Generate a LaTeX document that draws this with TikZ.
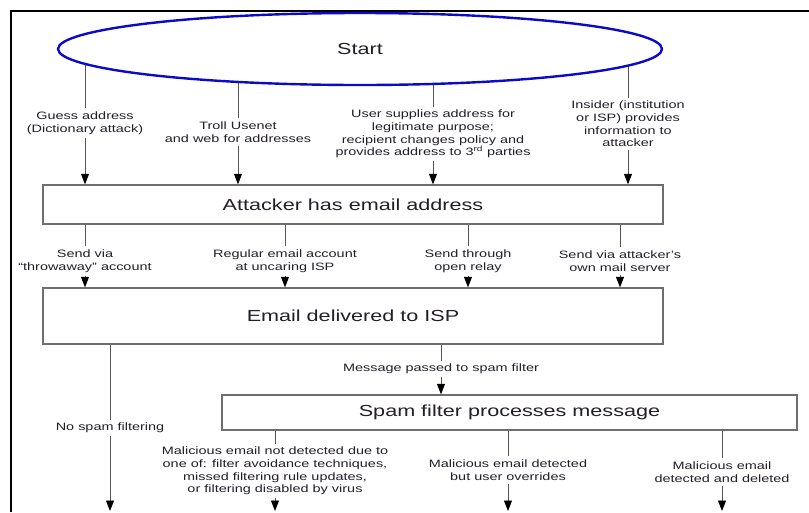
\documentclass[tikz,border=0pt]{standalone}
\usepackage{fontspec}
\setmainfont[FakeStretch=1.35]{Liberation Sans}
\usepackage{tikz}
\usetikzlibrary{arrows.meta, shapes.geometric, backgrounds}
\definecolor{startblue}{RGB}{10, 10, 200}
\definecolor{boxgray}{RGB}{110, 110, 110}
\definecolor{linegray}{RGB}{85, 85, 85}
\definecolor{textdark}{RGB}{35, 30, 40}

\begin{document}
\begin{tikzpicture}[x=1pt, y=-1pt, line width=1pt,
    startnode/.style={ellipse, draw=startblue, line width=2.4pt, fill=white,
        minimum width=604, minimum height=72, text=textdark,
        font=\fontsize{16}{18}\selectfont},
    stepbox/.style={rectangle, draw=boxgray, line width=1.3pt, fill=white,
        text=textdark, font=\fontsize{16}{18}\selectfont},
    lbl/.style={align=center, text=textdark, inner sep=3pt,
        font=\fontsize{10.7}{12.6}\selectfont},
    conn/.style={draw=linegray, line width=0.9pt},
    arr/.style={conn, -{Triangle[length=10.5pt, width=8pt, black]}}]
    \useasboundingbox (0,0) rectangle (809,512);
    \draw[line width=1.6pt] (11,512) -- (11,11) -- (809,11);

    % start and the three steps
    \node[startnode] (start) at (360,49) {Start};
    \node[stepbox, minimum width=620, minimum height=39] (addr) at (353,204.5) {Attacker has email address};
    \node[stepbox, minimum width=620, minimum height=56] (isp) at (353,316) {Email delivered to ISP};
    \node[stepbox, minimum width=575, minimum height=35] (filter) at (509.5,412.5) {Spam filter processes message};
    \coordinate (bottom) at (0,511);

    % ways to get the address
    \node[lbl] (guess) at (85,123) {Guess address\\(Dictionary attack)};
    \node[lbl] (troll) at (238,132) {Troll Usenet\\and web for addresses};
    \node[lbl] (user) at (433,134) {User supplies address for\\legitimate purpose;\\recipient changes policy and\\provides address to 3\textsuperscript{rd} parties};
    \node[lbl] (insider) at (628,124) {Insider (institution\\or ISP) provides\\information to\\attacker};

    % ways to send
    \node[lbl] (throw) at (85,261) {Send via\\``throwaway'' account};
    \node[lbl] (regular) at (285,261) {Regular email account\\at uncaring ISP};
    \node[lbl] (relay) at (468,261) {Send through\\open relay};
    \node[lbl] (own) at (620,261) {Send via attacker's\\own mail server};

    % what happens at the ISP
    \node[lbl] (nofilter) at (110,428) {No spam filtering};
    \node[lbl] (passed) at (441,369) {Message passed to spam filter};
    \node[lbl] (missed) at (275,471) {Malicious email not detected due to\\one of: filter avoidance techniques,\\missed filtering rule updates,\\or filtering disabled by virus};
    \node[lbl] (override) at (508,470) {Malicious email detected\\but user overrides};
    \node[lbl] (deleted) at (722,472) {Malicious email\\detected and deleted};

    \begin{scope}[on background layer]
        \foreach \n in {guess, troll, user, insider}
            \draw[conn] (\n.north |- start.center) -- (\n.north);
    \end{scope}
    \foreach \n in {guess, troll, user, insider}
        \draw[arr] (\n.south) -- (\n.south |- addr.north);
    \foreach \n in {throw, regular, relay, own} {
        \draw[conn] (\n.north |- addr.south) -- (\n.north);
        \draw[arr] (\n.south) -- (\n.south |- isp.north);
    }
    \foreach \n in {nofilter, passed}
        \draw[conn] (\n.north |- isp.south) -- (\n.north);
    \draw[arr] (passed.south) -- (passed.south |- filter.north);
    \draw[arr] (nofilter.south) -- (nofilter.south |- bottom);
    \foreach \n in {missed, override, deleted} {
        \draw[conn] (\n.north |- filter.south) -- (\n.north);
        \draw[arr] (\n.south) -- (\n.south |- bottom);
    }
\end{tikzpicture}
\end{document}
